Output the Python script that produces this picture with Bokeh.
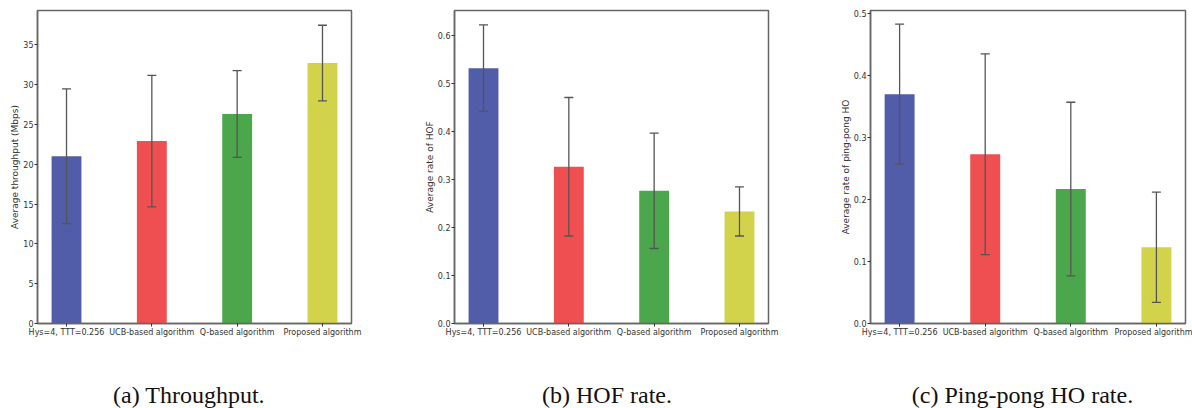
from bokeh.plotting import figure
from bokeh.layouts import row, column
from bokeh.models import (ColumnDataSource, Whisker, TeeHead, FixedTicker, Range1d,
                          PrintfTickFormatter, Label)
from bokeh.embed import file_html
from bokeh.resources import INLINE

# ---- data ----
labels = ["Hys=4, TTT=0.256", "UCB-based algorithm", "Q-based algorithm", "Proposed algorithm"]
colors = ["#525DAA", "#EF4F51", "#4CA64C", "#D3D34B"]

thr_mean = [21.0, 22.9, 26.3, 32.7]
thr_err = [8.45, 8.25, 5.45, 4.75]

hof_mean = [0.531, 0.326, 0.276, 0.233]
hof_err = [0.090, 0.144, 0.120, 0.051]

pp_mean = [0.370, 0.273, 0.217, 0.123]
pp_err = [0.113, 0.162, 0.140, 0.089]

captions = ["(a) Throughput.", "(b) HOF rate.", "(c) Ping-pong HO rate."]
ylabels = ["Average throughput (Mbps)", "Average rate of HOF", "Average rate of ping-pong HO"]
yticks_a = [0, 5, 10, 15, 20, 25, 30, 35]
yticks_b = [0.0, 0.1, 0.2, 0.3, 0.4, 0.5, 0.6]
yticks_c = [0.0, 0.1, 0.2, 0.3, 0.4, 0.5]

FRAME = "#666666"
ERR = "#555555"
TXT = "#333333"


def panel(mean, err, yticks, ymax, fmt, ylabel, width, bl, br, bt):
    xs = list(range(len(labels)))
    src = ColumnDataSource(dict(
        x=xs, top=mean, color=colors,
        upper=[m + e for m, e in zip(mean, err)],
        lower=[m - e for m, e in zip(mean, err)],
    ))
    p = figure(width=width, height=340, output_backend="svg", toolbar_location=None,
               x_range=Range1d(-0.34, 3.34), y_range=Range1d(0, ymax),
               min_border_left=bl, min_border_right=br, min_border_top=bt,
               min_border_bottom=17, title=None)
    p.vbar(x="x", top="top", width=0.35, color="color", source=src, line_color=None)
    w = Whisker(base="x", upper="upper", lower="lower", source=src,
                line_color=ERR, line_width=1.3, level="overlay",
                upper_head=TeeHead(size=9, line_color=ERR, line_width=1.3),
                lower_head=TeeHead(size=9, line_color=ERR, line_width=1.3))
    p.add_layout(w)
    p.grid.visible = False
    p.outline_line_color = FRAME
    p.outline_line_width = 1.5
    p.background_fill_color = "white"
    p.border_fill_color = "white"

    for ax in (p.xaxis[0], p.yaxis[0]):
        ax.axis_line_color = FRAME
        ax.axis_line_width = 1.5
        ax.major_tick_line_color = "#333333"
        ax.major_tick_out = 3
        ax.major_tick_in = 0
        ax.minor_tick_line_color = None
        ax.major_label_text_font = "DejaVu Sans"
        ax.major_label_text_font_size = "8px"
        ax.major_label_text_color = TXT
        ax.major_label_standoff = 1

    p.yaxis.ticker = FixedTicker(ticks=yticks)
    p.yaxis.formatter = PrintfTickFormatter(format=fmt)
    p.yaxis.axis_label = ylabel
    p.yaxis.axis_label_text_font = "DejaVu Sans"
    p.yaxis.axis_label_text_font_size = "9px"
    p.yaxis.axis_label_text_font_style = "normal"
    p.yaxis.axis_label_text_color = TXT
    p.yaxis.axis_label_standoff = 0

    p.xaxis.ticker = FixedTicker(ticks=xs)
    p.xaxis.major_label_overrides = {i: l for i, l in enumerate(labels)}
    return p


pa = panel(thr_mean, thr_err, yticks_a, 39.3, "%d", ylabels[0], 400, 37, 49, 8)
pb = panel(hof_mean, hof_err, yticks_b, 0.651, "%.1f", ylabels[1], 400, 54, 32, 8)
pc = panel(pp_mean, pp_err, yticks_c, 0.505, "%.1f", ylabels[2], 392, 70, 7, 10)

# caption strip below the three panels
cap = figure(width=1192, height=68, output_backend="svg", toolbar_location=None,
             x_range=Range1d(0, 1192), y_range=Range1d(0, 68),
             min_border=0, title=None)
cap.axis.visible = False
cap.grid.visible = False
cap.outline_line_color = None
for cx, txt in zip([188.5, 606.5, 1022.0], captions):
    cap.add_layout(Label(x=cx, y=14, text=txt, text_align="center",
                         text_baseline="middle", text_font="Liberation Serif",
                         text_font_size="24px", text_color="#111111"))

layout = column(row(pa, pb, pc, spacing=0), cap, spacing=0)
open("out.html", "w").write(file_html(layout, INLINE))
